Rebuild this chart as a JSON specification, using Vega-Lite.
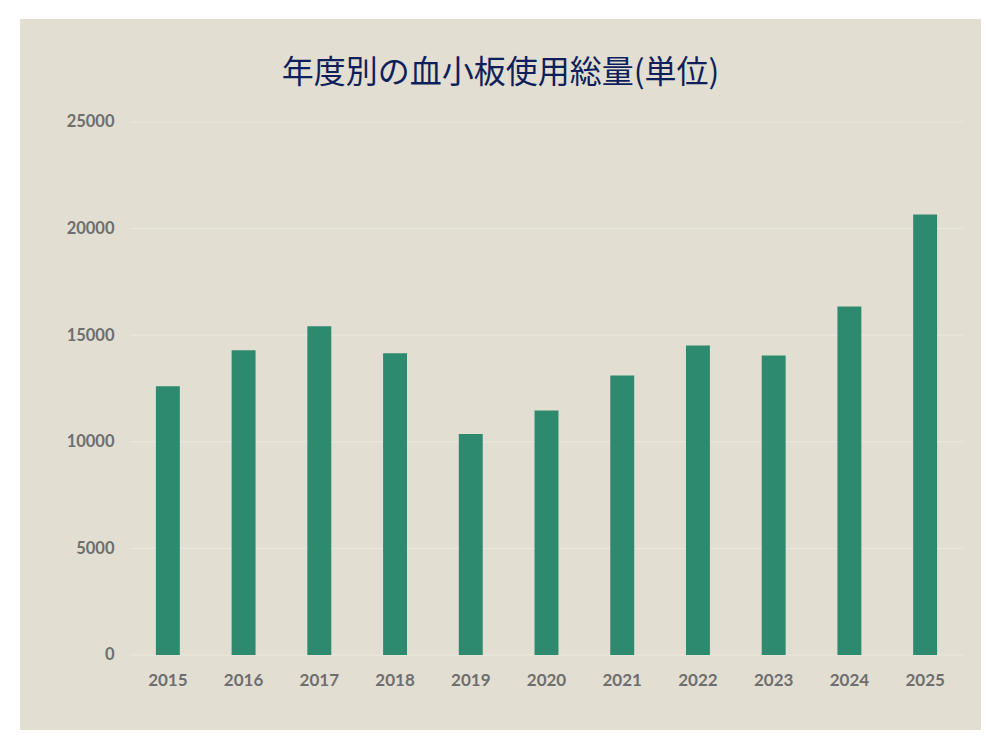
{
  "$schema": "https://vega.github.io/schema/vega-lite/v6.json",
  "width": 961,
  "height": 711,
  "autosize": {"type": "none"},
  "padding": {"left": 20, "top": 19, "right": 19, "bottom": 20},
  "background": "#ffffff",
  "config": {"view": {"fill": "#e2ded2", "stroke": null}},
  "title": {
    "text": "年度別の血小板使用総量(単位)",
    "font": "Noto Sans CJK JP",
    "fontSize": 32,
    "fontWeight": "normal",
    "color": "#0f1f5c",
    "anchor": "middle",
    "frame": "group",
    "offset": -71
  },
  "datasets": {
    "usage": [
      {"year": "2015", "value": 12600},
      {"year": "2016", "value": 14290},
      {"year": "2017", "value": 15420},
      {"year": "2018", "value": 14150},
      {"year": "2019", "value": 10360},
      {"year": "2020", "value": 11470},
      {"year": "2021", "value": 13110},
      {"year": "2022", "value": 14520},
      {"year": "2023", "value": 14050},
      {"year": "2024", "value": 16350},
      {"year": "2025", "value": 20660}
    ],
    "grid": [
      {"g": 0}, {"g": 5000}, {"g": 10000}, {"g": 15000}, {"g": 20000}, {"g": 25000}
    ]
  },
  "layer": [
    {
      "data": {"name": "grid"},
      "mark": {"type": "rule", "color": "#ebe8e1", "strokeWidth": 1},
      "encoding": {
        "y": {
          "field": "g",
          "type": "quantitative",
          "scale": {"domain": [-3518, 29831], "nice": false, "zero": false},
          "axis": {
            "values": [0, 5000, 10000, 15000, 20000, 25000],
            "offset": -110,
            "labelPadding": 16,
            "domain": false,
            "ticks": false,
            "grid": false,
            "title": null,
            "format": "d",
            "labelFont": "Lato",
            "labelFontSize": 16.5,
            "labelFontWeight": "bold",
            "labelColor": "#6e6e6e"
          }
        },
        "x": {"datum": "2015", "type": "nominal", "bandPosition": -1.08},
        "x2": {"datum": "2025", "bandPosition": 2.09}
      }
    },
    {
      "data": {"name": "usage"},
      "mark": {"type": "bar", "color": "#2e8a6f"},
      "encoding": {
        "x": {
          "field": "year",
          "type": "nominal",
          "scale": {"range": [110, 943], "paddingInner": 0.684, "paddingOuter": 0.342},
          "axis": {
            "orient": "bottom",
            "offset": -75,
            "bandPosition": 0.5,
            "labelAlign": "center",
            "labelPadding": 17,
            "labelBaseline": "top",
            "labelAngle": 0,
            "domain": false,
            "ticks": false,
            "grid": false,
            "title": null,
            "labelFont": "Lato",
            "labelFontSize": 17,
            "labelFontWeight": "bold",
            "labelColor": "#6e6e6e"
          }
        },
        "y": {
          "field": "value",
          "type": "quantitative",
          "scale": {"domain": [-3518, 29831], "nice": false, "zero": false},
          "axis": {
            "values": [0, 5000, 10000, 15000, 20000, 25000],
            "offset": -110,
            "labelPadding": 16,
            "domain": false,
            "ticks": false,
            "grid": false,
            "title": null,
            "format": "d",
            "labelFont": "Lato",
            "labelFontSize": 16.5,
            "labelFontWeight": "bold",
            "labelColor": "#6e6e6e"
          }
        }
      }
    }
  ]
}
